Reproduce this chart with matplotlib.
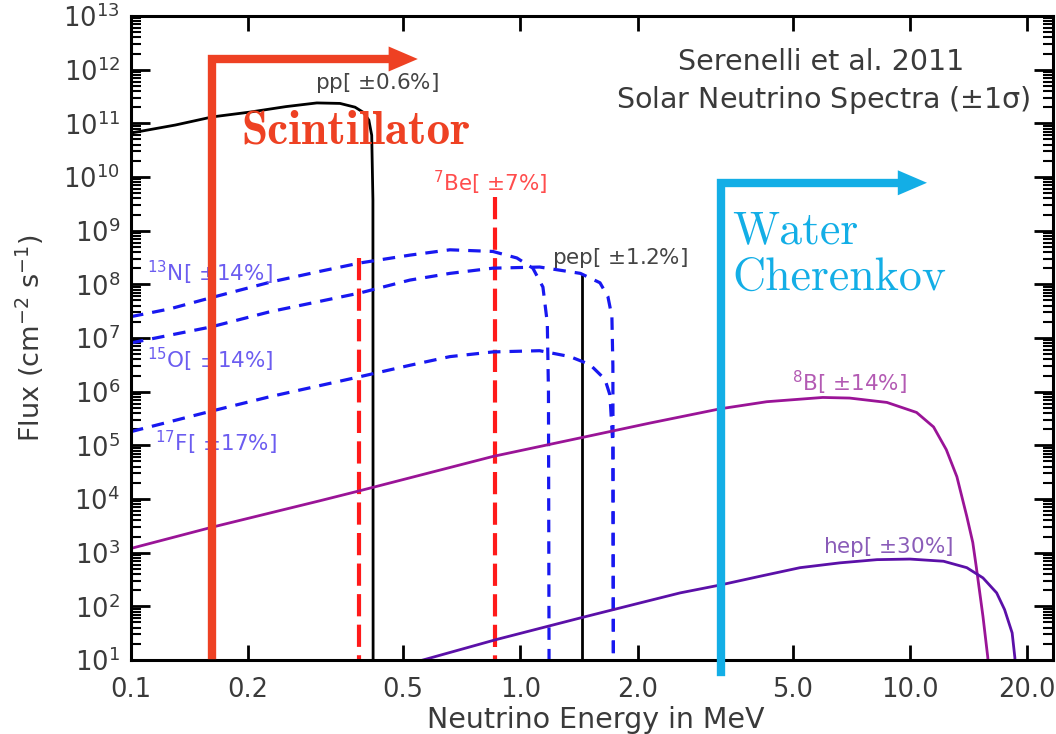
import numpy as np
import matplotlib
matplotlib.use("Agg")
import matplotlib.pyplot as plt
from matplotlib.ticker import FixedLocator, NullLocator, LogLocator, LogFormatterSciNotation

# ---- spectra (energy in MeV, flux in cm^-2 s^-1) ----
pp_E = [0.100, 0.130, 0.162, 0.202, 0.250, 0.300, 0.344, 0.376, 0.395, 0.408, 0.415, 0.418, 0.4185]
pp_F = [6.6e10, 9.3e10, 1.32e11, 1.62e11, 2.05e11, 2.4e11, 2.35e11, 2.0e11, 1.6e11, 1.15e11, 6.0e10, 3.7e9, 1.0]

be7_E = [0.384, 0.862]
be7_F = [3.1e8, 4.3e9]

pep_E = 1.442
pep_F = 1.4e8

n13_E = [0.100, 0.126, 0.160, 0.228, 0.306, 0.387, 0.520, 0.659, 0.849, 0.979, 1.076, 1.142, 1.172, 1.180, 1.185]
n13_F = [2.5e7, 3.5e7, 5.6e7, 1.1e8, 1.75e8, 2.5e8, 3.5e8, 4.4e8, 4.1e8, 3.1e8, 2.0e8, 8.9e7, 1.9e7, 1.0e6, 1.0]

o15_E = [0.100, 0.160, 0.228, 0.387, 0.520, 0.659, 0.849, 1.120, 1.425, 1.600, 1.677, 1.717, 1.727, 1.733]
o15_F = [8.1e6, 1.6e7, 3.1e7, 6.9e7, 1.2e8, 1.6e8, 2.0e8, 2.1e8, 1.6e8, 1.07e8, 5.9e7, 2.5e7, 3.0e6, 1.0]

f17_E = [0.100, 0.160, 0.228, 0.387, 0.520, 0.659, 0.849, 1.120, 1.340, 1.508, 1.648, 1.697, 1.727, 1.733]
f17_F = [1.8e5, 4.3e5, 8.1e5, 1.9e6, 3.1e6, 4.5e6, 5.5e6, 5.8e6, 4.5e6, 3.2e6, 1.7e6, 8.7e5, 1.0e5, 1.0]

b8_E = [0.100, 0.162, 0.306, 0.383, 0.849, 1.44, 2.15, 3.26, 4.29, 5.97, 7.00, 8.73, 10.4, 11.5,
        12.4, 13.2, 14.0, 14.5, 14.8, 15.4, 15.85, 16.0]
b8_F = [1.2e3, 3.0e3, 9.3e3, 1.4e4, 6.2e4, 1.4e5, 2.6e5, 4.8e5, 6.5e5, 7.8e5, 7.6e5, 6.3e5, 4.1e5, 2.2e5,
        8.3e4, 2.6e4, 4.7e3, 1.55e3, 5.5e2, 6.5e1, 1.1e1, 1.0]

hep_E = [0.562, 0.866, 1.44, 2.03, 2.57, 3.26, 4.12, 5.22, 6.61, 8.23, 10.0, 12.2, 14.0, 15.4,
         16.7, 17.5, 18.3, 18.6, 18.7]
hep_F = [10.0, 24.0, 62.0, 116.0, 178.0, 250.0, 363.0, 525.0, 646.0, 741.0, 760.0, 692.0, 525.0, 339.0,
         178.0, 87.0, 32.0, 11.0, 1.0]

x_ticks = [0.1, 0.2, 0.5, 1.0, 2.0, 5.0, 10.0, 20.0]
x_ticklabels = ["0.1", "0.2", "0.5", "1.0", "2.0", "5.0", "10.0", "20.0"]

# detector thresholds marked on the figure
scint_E, scint_top, scint_bottom, scint_headbase, scint_tip = 0.1615, 1.58e12, 12.6, 0.47, 0.545
water_E, water_top, water_bottom, water_headbase, water_tip = 3.27, 7.8e9, 6.1, 9.7, 11.06

plt.rcParams["mathtext.default"] = "regular"
plt.rcParams["lines.scale_dashes"] = False

txt = "#3a3a3a"
c_blue = "#1818f0"
c_red = "#ff1a1a"
c_b8 = "#9a1497"
c_hep = "#5b10a8"
c_scint = "#ee4123"
c_water = "#13aee6"

fig = plt.figure(figsize=(10.56, 7.34), dpi=100)
ax = fig.add_axes([131 / 1056, 74 / 734, 922 / 1056, 644 / 734])
ax.set_xscale("log")
ax.set_yscale("log")
ax.set_xlim(0.1, 23.3)
ax.set_ylim(10, 1e13)

# spectra
ax.plot(pp_E, pp_F, color="black", lw=2.0)
for e, f in zip(be7_E, be7_F):
    ax.plot([e, e], [f, 1.0], color=c_red, lw=3.0, dashes=(16, 6))
ax.plot([pep_E, pep_E], [pep_F, 1.0], color="black", lw=2.0)
for e, f in [(n13_E, n13_F), (o15_E, o15_F), (f17_E, f17_F)]:
    ax.plot(e, f, color=c_blue, lw=2.3, dashes=(9, 6.5))
ax.plot(b8_E, b8_F, color=c_b8, lw=2.0)
ax.plot(hep_E, hep_F, color=c_hep, lw=2.0)

# curve labels
lab_fs = 15.5
ax.text(0.297, 10**11.75, r"pp[ $\pm$0.6%]", color="#444444", fontsize=lab_fs, va="center")
ax.text(0.596, 10**9.89, r"$^{7}$Be[ $\pm$7%]", color="#ff4d4d", fontsize=lab_fs, va="center")
ax.text(1.205, 10**8.49, r"pep[ $\pm$1.2%]", color="#444444", fontsize=lab_fs, va="center")
ax.text(0.1099, 10**8.21, r"$^{13}$N[ $\pm$14%]", color="#6b5cf0", fontsize=lab_fs, va="center")
ax.text(0.1099, 10**6.59, r"$^{15}$O[ $\pm$14%]", color="#6b5cf0", fontsize=lab_fs, va="center")
ax.text(0.1152, 10**5.05, r"$^{17}$F[ $\pm$17%]", color="#6b5cf0", fontsize=lab_fs, va="center")
ax.text(4.98, 10**6.17, r"$^{8}$B[ $\pm$14%]", color="#b35ab3", fontsize=lab_fs, va="center")
ax.text(5.98, 10**3.11, r"hep[ $\pm$30%]", color="#8a5cb8", fontsize=lab_fs, va="center")

ax.text(0.748, 0.9286, "Serenelli et al. 2011", transform=ax.transAxes,
        ha="center", va="center", fontsize=20.5, color=txt)
ax.text(0.7505, 0.8696, r"Solar Neutrino Spectra ($\pm$1$\sigma$)", transform=ax.transAxes,
        ha="center", va="center", fontsize=20.5, color=txt)

# axes styling
for sp in ax.spines.values():
    sp.set_linewidth(2.2)
ax.xaxis.set_major_locator(FixedLocator(x_ticks))
ax.xaxis.set_minor_locator(NullLocator())
ax.set_xticklabels(x_ticklabels)
ax.yaxis.set_major_locator(LogLocator(base=10, numticks=20))
ax.yaxis.set_minor_locator(LogLocator(base=10, subs=np.arange(2, 10), numticks=20))
ax.yaxis.set_major_formatter(LogFormatterSciNotation())
ax.tick_params(which="both", direction="in", top=True, right=True, labelcolor=txt, labelsize=18.5)
ax.tick_params(axis="x", which="major", length=11, width=2, pad=12)
ax.tick_params(axis="y", which="major", length=14, width=2, pad=8)
ax.tick_params(axis="y", which="minor", length=7, width=1.5)

fig.text(596 / 1056, 1 - 720 / 734, "Neutrino Energy in MeV", ha="center", va="center",
         fontsize=20.5, color=txt)
fig.text(30 / 1056, 1 - 338 / 734, r"Flux (cm$^{-2}$ s$^{-1}$)", ha="center", va="center",
         rotation=90, fontsize=19.5, color=txt)

# detector annotations
ax.plot([scint_E, scint_E, scint_headbase], [scint_bottom, scint_top, scint_top], color=c_scint,
        lw=6, solid_joinstyle="miter", clip_on=False, zorder=5)
ax.annotate("", xy=(scint_tip, scint_top), xytext=(scint_E, scint_top), annotation_clip=False,
            arrowprops=dict(arrowstyle="-|>,head_length=0.7,head_width=0.3", mutation_scale=30,
                            lw=0, color=c_scint, shrinkA=0, shrinkB=0), zorder=5)
ax.text(0.192, 10**10.63, "Scintillator", family="cmb10", fontsize=34, color=c_scint,
        ha="left", va="baseline", zorder=6)

ax.plot([water_E, water_E, water_headbase], [water_bottom, water_top, water_top], color=c_water,
        lw=6, solid_joinstyle="miter", clip_on=False, zorder=5)
ax.annotate("", xy=(water_tip, water_top), xytext=(water_E, water_top), annotation_clip=False,
            arrowprops=dict(arrowstyle="-|>,head_length=0.7,head_width=0.3", mutation_scale=30,
                            lw=0, color=c_water, shrinkA=0, shrinkB=0), zorder=5)
ax.text(3.49, 10**8.77, "Water", family="cmr10", fontsize=33, color=c_water,
        ha="left", va="baseline", zorder=6)
ax.text(3.49, 10**7.90, "Cherenkov", family="cmr10", fontsize=33, color=c_water,
        ha="left", va="baseline", zorder=6)

fig.savefig("out.png", dpi=100)
